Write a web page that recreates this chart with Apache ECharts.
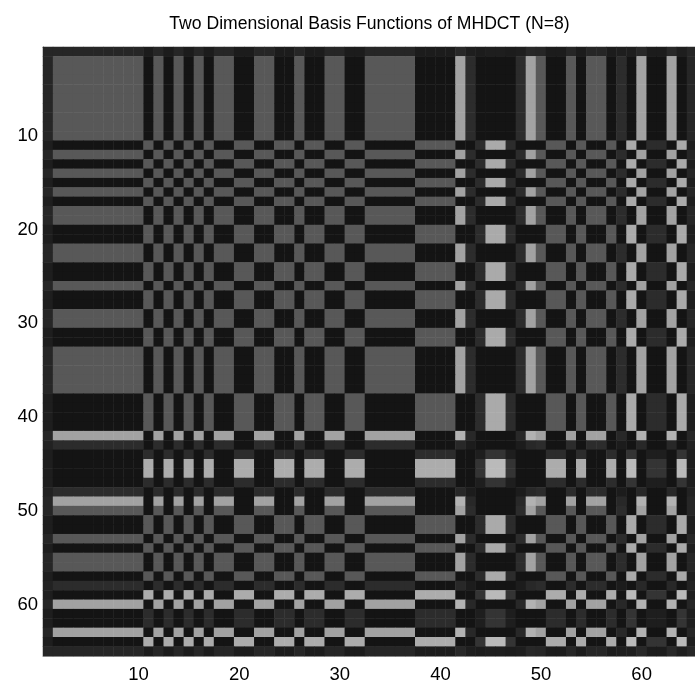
<!DOCTYPE html>
<html>
<head>
<meta charset="utf-8">
<style>html,body{margin:0;padding:0;background:#fff;overflow:hidden}#chart{width:695px;height:682px;filter:blur(0.55px)}</style>
<script src="https://cdn.jsdelivr.net/npm/echarts@6/dist/echarts.min.js"></script>
</head>
<body>
<div id="chart"></div>
<script>
const titleText = 'Two Dimensional Basis Functions of MHDCT (N=8)';
const axisPositions = [1,2,3,4,5,6,7,8,9,10,11,12,13,14,15,16,17,18,19,20,21,22,23,24,25,26,27,28,29,30,31,32,33,34,35,36,37,38,39,40,41,42,43,44,45,46,47,48,49,50,51,52,53,54,55,56,57,58,59,60,61,62,63,64,65];
const tickLabels = [10,20,30,40,50,60];

// Grey level of each cell, left to right, for each kind of row seen in the picture.
const pos = [38,
  88,88,88,88,88,88,88,88,88,
  20,88,20,88,20,88,20,
  88,88,20,20,88,88,20,20,88,20,20,88,88,20,20,
  88,88,88,88,88,20,20,20,20,
  162,44,20,20,20,20,44,162,
  88,20,20,88,20,88,88,20,44,20,162,20,20,162,20,38];
const neg = [30,
  20,20,20,20,20,20,20,20,20,
  88,20,88,20,88,20,88,
  20,20,88,88,20,20,88,88,20,88,88,20,20,88,88,
  20,20,20,20,20,88,88,88,88,
  20,20,44,170,170,44,20,20,
  20,88,88,20,88,20,20,88,20,170,20,44,44,20,170,30];
const bright = [38,
  162,162,162,162,162,162,162,162,162,
  20,162,20,162,20,162,20,
  162,162,20,20,162,162,20,20,162,20,20,162,162,20,20,
  162,162,162,162,162,20,20,20,20,
  178,40,20,20,20,20,40,178,
  162,20,20,162,20,162,162,20,40,20,178,20,20,178,20,38];
const strongNeg = [30,
  20,20,20,20,20,20,20,20,20,
  172,20,172,20,172,20,172,
  20,20,172,172,20,20,172,172,20,172,172,20,20,172,172,
  20,20,20,20,20,172,172,172,172,
  20,20,52,186,186,52,20,20,
  20,172,172,20,172,20,20,172,20,186,20,52,52,20,186,30];
const faint = [34,
  44,44,44,44,44,44,44,44,44,
  20,44,20,44,20,44,20,
  44,44,20,20,44,44,20,20,44,20,20,44,44,20,20,
  44,44,44,44,44,20,20,20,20,
  40,28,20,20,20,20,28,40,
  44,20,20,44,20,44,44,20,28,20,40,20,20,40,20,34];
const faintNeg = [30,
  20,20,20,20,20,20,20,20,20,
  44,20,44,20,44,20,44,
  20,20,44,44,20,20,44,44,20,44,44,20,20,44,44,
  20,20,20,20,20,44,44,44,44,
  20,20,30,52,52,30,20,20,
  20,44,44,20,44,20,20,44,20,52,20,30,30,20,52,30];
const edge = [38,
  38,38,38,38,38,38,38,38,38,
  28,38,28,38,28,38,28,
  38,38,28,28,38,38,28,28,38,28,28,38,38,28,28,
  38,38,38,38,38,28,28,28,28,
  40,30,28,30,30,28,30,40,
  38,28,28,38,28,38,38,28,30,30,40,28,28,40,30,38];

// Which kind of row each of the 65 rows is, top to bottom.
const rowKinds = [edge,
  pos,pos,pos,pos,pos,pos,pos,pos,pos,
  neg,pos,neg,pos,neg,pos,neg,
  pos,pos,neg,neg,pos,pos,neg,neg,pos,neg,neg,pos,pos,neg,neg,
  pos,pos,pos,pos,pos,neg,neg,neg,neg,
  bright,faint,faintNeg,strongNeg,strongNeg,faintNeg,faint,bright,
  pos,neg,neg,pos,neg,pos,pos,neg,faint,strongNeg,bright,faintNeg,faintNeg,bright,strongNeg,edge];

const cells = [];
rowKinds.forEach((row, r) => row.forEach((grey, c) => cells.push([c, r, grey])));

const textFont = '"Liberation Sans", Arial, sans-serif';
const showTick = (index, value) => tickLabels.includes(Number(value));

const chart = echarts.init(document.getElementById('chart'), null, {renderer: 'canvas'});
chart.setOption({
  animation: false,
  backgroundColor: '#ffffff',
  title: {
    text: titleText, left: 364.5, top: 10, textAlign: 'center',
    textStyle: {fontFamily: textFont, fontSize: 17.6, fontWeight: 'normal', color: '#000'}
  },
  grid: {left: 43, top: 47, width: 654, height: 609, containLabel: false, outerBoundsMode: 'none'},
  xAxis: [
    {type: 'category', data: axisPositions, position: 'bottom',
     axisLine: {show: true, lineStyle: {color: '#a8a8a8', width: 1}},
     axisTick: {show: false}, splitLine: {show: false},
     axisLabel: {interval: showTick, fontFamily: textFont, fontSize: 18.5, color: '#000', margin: 9}},
    {type: 'category', data: axisPositions, position: 'top',
     axisLine: {show: true, lineStyle: {color: '#6e6e6e', width: 1}},
     axisTick: {show: false}, axisLabel: {show: false}, splitLine: {show: false}}
  ],
  yAxis: {type: 'category', data: axisPositions, inverse: true,
     axisLine: {show: true, lineStyle: {color: '#6e6e6e', width: 1}},
     axisTick: {show: false}, splitLine: {show: false},
     axisLabel: {interval: showTick, fontFamily: textFont, fontSize: 18.5, color: '#000', margin: 5}},
  visualMap: {show: false, type: 'continuous', min: 0, max: 255, dimension: 2,
     inRange: {color: ['#000000', '#ffffff']}},
  series: [{type: 'heatmap', data: cells, xAxisIndex: 0, yAxisIndex: 0,
     progressive: 0, itemStyle: {borderWidth: 0}, emphasis: {disabled: true}}]
});
</script>
</body>
</html>
